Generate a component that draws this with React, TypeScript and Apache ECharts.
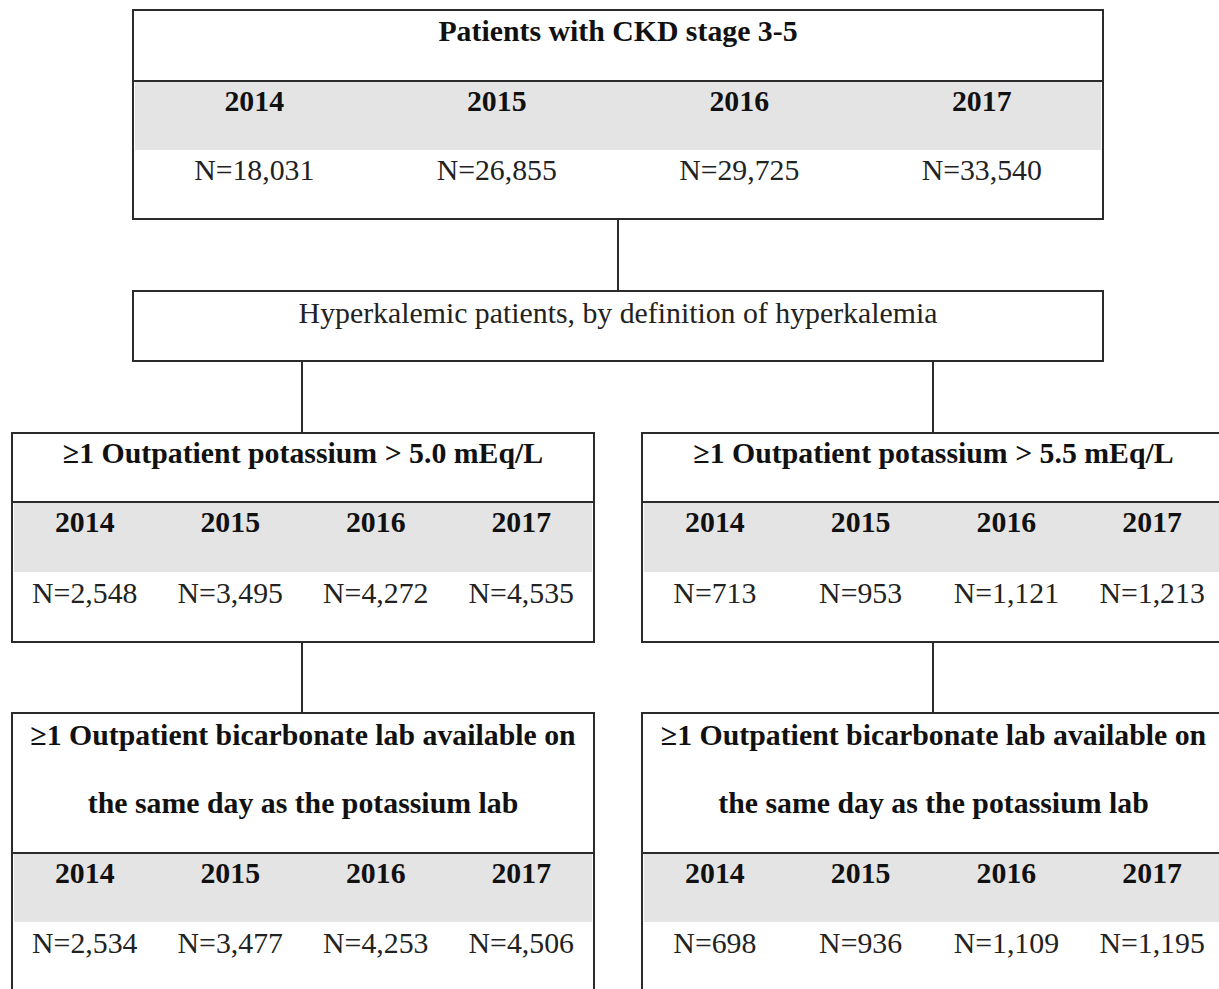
import React, { useEffect, useRef } from "react";
import * as echarts from "echarts";

// ---- data ----
const years = ["2014", "2015", "2016", "2017"];
const ckdTitle = "Patients with CKD stage 3-5";
const ckdCounts = [18031, 26855, 29725, 33540];
const hyperTitle = "Hyperkalemic patients, by definition of hyperkalemia";
const k50Title = "≥1 Outpatient potassium > 5.0 mEq/L";
const k50Counts = [2548, 3495, 4272, 4535];
const k55Title = "≥1 Outpatient potassium > 5.5 mEq/L";
const k55Counts = [713, 953, 1121, 1213];
const bicTitle = ["≥1 Outpatient bicarbonate lab available on", "the same day as the potassium lab"];
const bic50Counts = [2534, 3477, 4253, 4506];
const bic55Counts = [698, 936, 1109, 1195];

const FONT = '"Liberation Serif", "Times New Roman", serif';
const STROKE = "#2b2b2b";
const GRAY = "#e4e4e4";
const FS = 29.8;

const fmt = (n: number) => "N=" + n.toLocaleString("en-US");

type BoxSpec = {
  x: number; y: number; w: number; h: number;
  titles: string[]; titleYs: number[];
  sep: number; grayEnd: number; yearY: number; nY: number;
  counts: number[];
};

function tableBox(b: BoxSpec): any[] {
  const els: any[] = [];
  els.push({
    type: "rect",
    shape: { x: b.x + 2, y: b.sep + 1, width: b.w - 4, height: b.grayEnd - b.sep - 1 },
    style: { fill: GRAY },
  });
  els.push({
    type: "rect",
    shape: { x: b.x, y: b.y, width: b.w, height: b.h },
    style: { fill: "none", stroke: STROKE, lineWidth: 2 },
  });
  els.push({
    type: "line",
    shape: { x1: b.x, y1: b.sep, x2: b.x + b.w, y2: b.sep },
    style: { stroke: STROKE, lineWidth: 2 },
  });
  b.titles.forEach((t, i) => {
    els.push({
      type: "text",
      x: b.x + b.w / 2,
      y: b.titleYs[i],
      style: { text: t, font: `bold ${FS}px ${FONT}`, fill: "#111", align: "center", verticalAlign: "middle" },
    });
  });
  const cw = b.w / years.length;
  years.forEach((yr, i) => {
    const cx = b.x + cw * (i + 0.5);
    els.push({
      type: "text", x: cx, y: b.yearY,
      style: { text: yr, font: `bold ${FS}px ${FONT}`, fill: "#111", align: "center", verticalAlign: "middle" },
    });
    els.push({
      type: "text", x: cx, y: b.nY,
      style: { text: fmt(b.counts[i]), font: `${FS}px ${FONT}`, fill: "#222", align: "center", verticalAlign: "middle" },
    });
  });
  return els;
}

function vline(x: number, y1: number, y2: number) {
  return { type: "line", shape: { x1: x, y1, x2: x, y2 }, style: { stroke: STROKE, lineWidth: 2 } };
}

export default function App() {
  const ref = useRef<HTMLDivElement>(null);
  useEffect(() => {
    if (!ref.current) return;
    const chart = echarts.init(ref.current, undefined, { renderer: "svg" });
    const els: any[] = [];
    // top box
    els.push(...tableBox({
      x: 133, y: 10, w: 970, h: 209,
      titles: [ckdTitle], titleYs: [30],
      sep: 81, grayEnd: 150, yearY: 100, nY: 169, counts: ckdCounts,
    }));
    // connector top -> hyper
    els.push(vline(618, 219, 291));
    // hyper box
    els.push({
      type: "rect",
      shape: { x: 133, y: 291, width: 970, height: 70 },
      style: { fill: "none", stroke: STROKE, lineWidth: 2 },
    });
    els.push({
      type: "text", x: 618, y: 312,
      style: { text: hyperTitle, font: `${FS}px ${FONT}`, fill: "#222", align: "center", verticalAlign: "middle" },
    });
    els.push(vline(302, 361, 433));
    els.push(vline(933, 361, 433));
    // level 3
    els.push(...tableBox({
      x: 12, y: 433, w: 582, h: 209,
      titles: [k50Title], titleYs: [452],
      sep: 502, grayEnd: 572, yearY: 521, nY: 592, counts: k50Counts,
    }));
    els.push(...tableBox({
      x: 642, y: 433, w: 583, h: 209,
      titles: [k55Title], titleYs: [452],
      sep: 502, grayEnd: 572, yearY: 521, nY: 592, counts: k55Counts,
    }));
    els.push(vline(302, 642, 713));
    els.push(vline(933, 642, 713));
    // bottom
    els.push(...tableBox({
      x: 12, y: 713, w: 582, h: 320,
      titles: bicTitle, titleYs: [734, 802],
      sep: 853, grayEnd: 922, yearY: 872, nY: 942, counts: bic50Counts,
    }));
    els.push(...tableBox({
      x: 642, y: 713, w: 583, h: 320,
      titles: bicTitle, titleYs: [734, 802],
      sep: 853, grayEnd: 922, yearY: 872, nY: 942, counts: bic55Counts,
    }));
    chart.setOption({
      animation: false,
      backgroundColor: "#ffffff",
      graphic: { elements: els },
    });
    return () => chart.dispose();
  }, []);
  return (
    <div
      ref={ref}
      style={{ position: "absolute", left: 0, top: 0, width: 1219, height: 989 }}
    />
  );
}
